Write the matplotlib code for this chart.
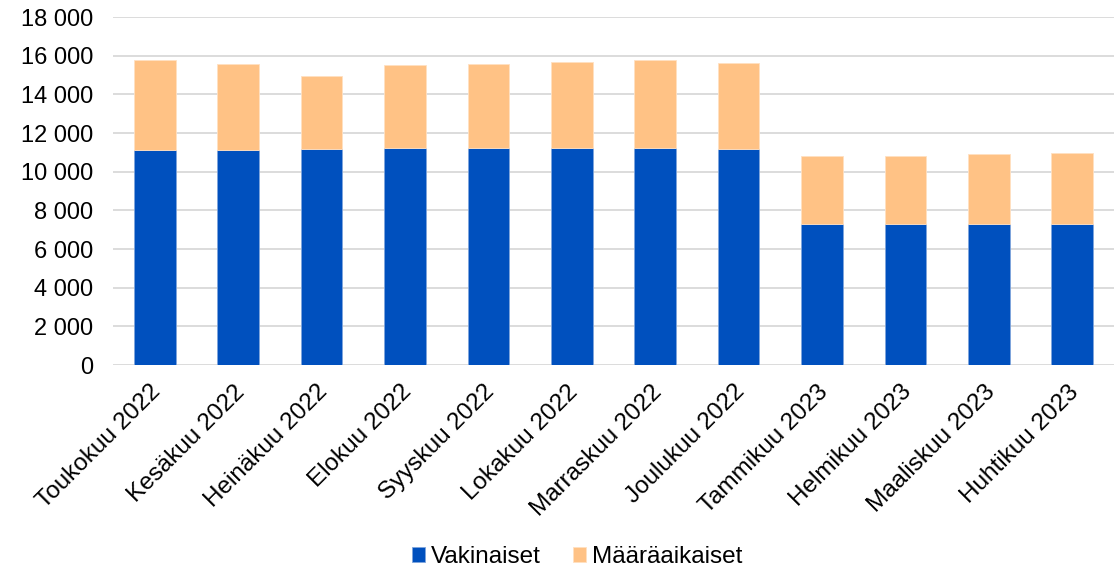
import matplotlib.pyplot as plt
import matplotlib.transforms as mtransforms
from matplotlib.ticker import FuncFormatter

plt.rcParams['font.family'] = ['Liberation Sans', 'DejaVu Sans']

months = ['Toukokuu 2022', 'Kesäkuu 2022', 'Heinäkuu 2022', 'Elokuu 2022',
          'Syyskuu 2022', 'Lokakuu 2022', 'Marraskuu 2022', 'Joulukuu 2022',
          'Tammikuu 2023', 'Helmikuu 2023', 'Maaliskuu 2023', 'Huhtikuu 2023']
totals = [15760, 15590, 14970, 15500, 15560, 15660, 15760, 15620,
          10800, 10820, 10900, 10970]
vakinaiset = [11110, 11110, 11180, 11250, 11200, 11230, 11210, 11180,
              7290, 7290, 7290, 7290]
maaraaikaiset = [t - v for t, v in zip(totals, vakinaiset)]

blue = '#0050BE'
orange = '#FFC285'

fig = plt.figure(figsize=(11.19, 5.70), dpi=100)
ax = fig.add_axes([113 / 1119, 1 - 365 / 570, 1001 / 1119, 348 / 570])

x = range(len(months))
ax.bar(x, vakinaiset, width=0.5, color=blue, edgecolor='#7FA5DC',
       linewidth=0.6, label='Vakinaiset', zorder=3)
ax.bar(x, maaraaikaiset, width=0.5, bottom=vakinaiset, color=orange,
       edgecolor='#FFE0C2', linewidth=0.6, label='Määräaikaiset', zorder=3)

ax.set_xlim(-0.5, len(months) - 0.5)
ax.set_ylim(0, 18000)
ax.set_yticks(range(0, 18001, 2000))
ax.yaxis.set_major_formatter(FuncFormatter(lambda v, p: f'{int(v):,}'.replace(',', ' ')))
ax.grid(axis='y', color='#d9d9d9', linewidth=1.3, zorder=0)
for s in ax.spines.values():
    s.set_visible(False)
ax.tick_params(axis='both', length=0, labelsize=17, colors='#000000')
ax.tick_params(axis='y', pad=14)
ax.set_xticks(list(x))
ax.set_xticklabels(months, rotation=45, ha='right', va='center',
                   rotation_mode='anchor', fontsize=17.5)
ax.tick_params(axis='x', pad=17)
# nudge rotated labels slightly right
shift = mtransforms.ScaledTranslation(3 / 100, 0, fig.dpi_scale_trans)
for lbl in ax.get_xticklabels():
    lbl.set_transform(lbl.get_transform() + shift)

fig.legend(loc='center', bbox_to_anchor=(577 / 1119, 1 - 557 / 570), ncol=2,
           frameon=False, fontsize=17.5, handlelength=0.55, handleheight=0.55,
           handletextpad=0.25, columnspacing=1.3)

fig.savefig('out.png', dpi=100)
